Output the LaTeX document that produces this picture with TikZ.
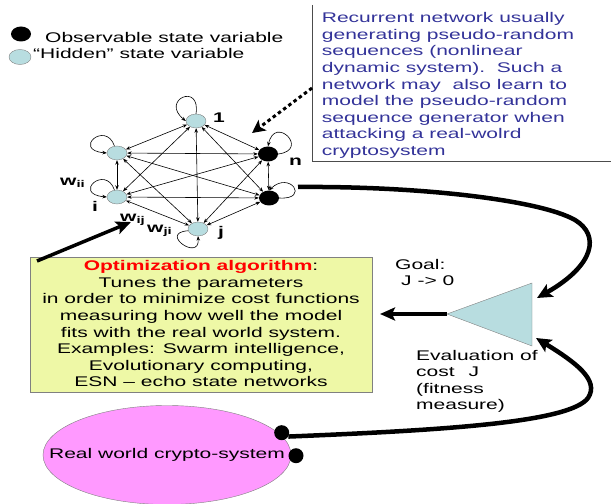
\documentclass[tikz,border=0pt]{standalone}
\usepackage{fontspec}
\setmainfont{Liberation Sans}[FakeStretch=1.5]
\usetikzlibrary{arrows.meta,shapes.geometric}
\definecolor{nodeblue}{RGB}{184,221,224}
\definecolor{boxyellow}{RGB}{238,248,166}
\definecolor{pinkfill}{RGB}{255,153,255}
\definecolor{textblue}{RGB}{51,51,153}
\begin{document}
\begin{tikzpicture}[x=1bp,y=-1bp,
  hid/.style={ellipse, draw=gray, fill=nodeblue, minimum width=20bp, minimum height=14bp, inner sep=0},
  obs/.style={ellipse, fill=black, minimum width=20bp, minimum height=15bp, inner sep=0},
  dotnode/.style={circle, fill=black, minimum size=15bp, inner sep=0},
  edge/.style={{Stealth[length=4.5bp,width=3.5bp]}-{Stealth[length=4.5bp,width=3.5bp]}, line width=0.6bp},
  selfloop/.style={-{Stealth[length=4.5bp,width=3.5bp]}, line width=0.6bp},
  lbl/.style={font=\fontsize{14bp}{16.6bp}\selectfont\bfseries, inner sep=0},
  txt/.style={font=\fontsize{14bp}{16.6bp}\selectfont, inner sep=0, align=left},
  thickarr/.style={line width=3.5bp, -{Stealth[length=15bp,width=13bp,inset=3bp]}},
  curvearr/.style={line width=4.5bp, -{Stealth[length=15bp,width=14bp,inset=3bp]}},
  dotarr/.style={line width=3bp, dash pattern=on 3.5bp off 3bp, -{Stealth[length=13bp,width=13bp,inset=3bp]}}
]
\useasboundingbox (0,0) rectangle (611,504);

% legend
\node[obs] (legobs) at (21,34) {};
\node[hid, minimum width=22bp, minimum height=15bp] (leghid) at (20,57) {};
\node[txt, anchor=base west] (legtxt1) at (45,42.7) {Observable state variable};
\node[txt, anchor=base west] (legtxt2) at (33,59) {“Hidden” state variable};

% recurrent network description (anchor=base is the last line's baseline)
\coordinate (rbTop) at (312.7,5);
\coordinate (rbCorner) at (312.7,161.7);
\coordinate (rbRight) at (611,161.7);
\draw[gray!60!black, line width=0.8bp] (rbTop) -- (rbCorner) -- (rbRight);
\node[txt, text=textblue, anchor=base west] (rectxt) at (321.7,155.5)
  {Recurrent network usually\\generating pseudo-random\\sequences (nonlinear\\dynamic system).\ \ Such a\\network may\ \ also learn to\\model the pseudo-random\\sequence generator when\\attacking a real-wolrd\\cryptosystem};

% network nodes
\node[hid] (n1) at (196,121) {};
\node[hid] (tl) at (117,153) {};
\node[hid] (ni) at (117,197) {};
\node[hid] (nj) at (198,229) {};
\node[obs] (nn) at (268,154) {};
\node[obs] (nb) at (269,198) {};

% edges
\foreach \a/\b in {n1/tl,n1/ni,n1/nj,n1/nn,n1/nb,tl/ni,tl/nj,tl/nn,tl/nb,ni/nj,ni/nn,ni/nb,nj/nn,nj/nb,nn/nb}
  \draw[edge] (\a) -- (\b);

% self loops
\draw[selfloop] (n1.north) .. controls +(5,-32) and +(-26,-21) .. (n1.west);
\draw[selfloop] (tl.110) .. controls +(-9,-26) and +(-35,-3) .. (tl.west);
\draw[selfloop] (ni.110) .. controls +(-9,-26) and +(-35,-3) .. (ni.west);
\draw[selfloop] (nj.190) .. controls +(-30,2) and +(2,26) .. (nj.south);
\draw[selfloop] (nn.east) .. controls +(32,-4) and +(7,-32) .. (nn.north);
\draw[selfloop] (nb.east) .. controls +(31,2) and +(21,-20) .. (nb.north);

% labels
\node[lbl, anchor=base west] (l1) at (213,123) {1};
\node[lbl, anchor=base west] (ln) at (289,165.7) {n};
\node[lbl, anchor=base west] (li) at (92,211.7) {i};
\node[lbl, anchor=base west] (lj) at (218,237) {j};
\node[lbl, anchor=base west] (lwii) at (60,185.7) {w\textsubscript{ii}};
\node[lbl, anchor=base west] (lwij) at (120,221.7) {w\textsubscript{ij}};
\node[lbl, anchor=base west] (lwji) at (147,232.7) {w\textsubscript{ji}};

% dotted arrow from description to network
\coordinate (rbDot) at (312,88);
\coordinate (dottip) at (252,133);
\draw[dotarr] (rbDot) -- (dottip);

% optimization box
\node[draw=gray, fill=boxyellow, minimum width=342.3bp, minimum height=135.6bp, anchor=north west, inner sep=0] (opt) at (30,256.7) {};
\node[txt, align=center, anchor=base] (opttxt) at (201,386.9)
  {{\color{red}\bfseries Optimization algorithm}:\\Tunes the parameters\\in order to minimize cost functions\\measuring how well the model\\fits with the real world system.\\Examples: Swarm intelligence,\\Evolutionary computing,\\ESN – echo state networks};

% arrow from box to network
\coordinate (optstart) at (37,261);
\coordinate (nettip) at (131,222);
\draw[thickarr] (optstart) -- (nettip);

% evaluation triangle
\coordinate (triL) at (447,314);
\coordinate (triT) at (532,283);
\coordinate (triB) at (532,346);
\draw[draw=gray, fill=nodeblue] (triL) -- (triT) -- (triB) -- cycle;
\coordinate (opttip) at (380,314);
\draw[thickarr] (triL) -- (opttip);

\node[txt, anchor=base west] (goal) at (395,285.6) {Goal:\\\hspace*{6bp}J -> 0};
\node[txt, anchor=base west] (evaltxt) at (416,409.8) {Evaluation of\\cost\hspace{14bp}J\\(fitness\\measure)};

% real world system
\node[ellipse, draw=gray, fill=pinkfill, minimum width=248bp, minimum height=99bp, inner sep=0,
  label={[font=\fontsize{14bp}{16.6bp}\selectfont, inner sep=0]center:Real world crypto-system}] (rw) at (167,455) {};
\node[dotnode] (d1) at (281.7,432.7) {};
\node[dotnode] (d2) at (296,455.7) {};

% curves
\coordinate (netout) at (298,187);
\coordinate (triTop) at (537,298);
\coordinate (triBot) at (536,338);
\draw[curvearr] (netout) .. controls (420,186) and (540,200) .. (575,220) .. controls (600,235) and (595,265) .. (triTop);
\draw[curvearr] (d1.-30) .. controls (450,430) and (570,422) .. (588,398) .. controls (600,380) and (575,362) .. (triBot);
\end{tikzpicture}
\end{document}
